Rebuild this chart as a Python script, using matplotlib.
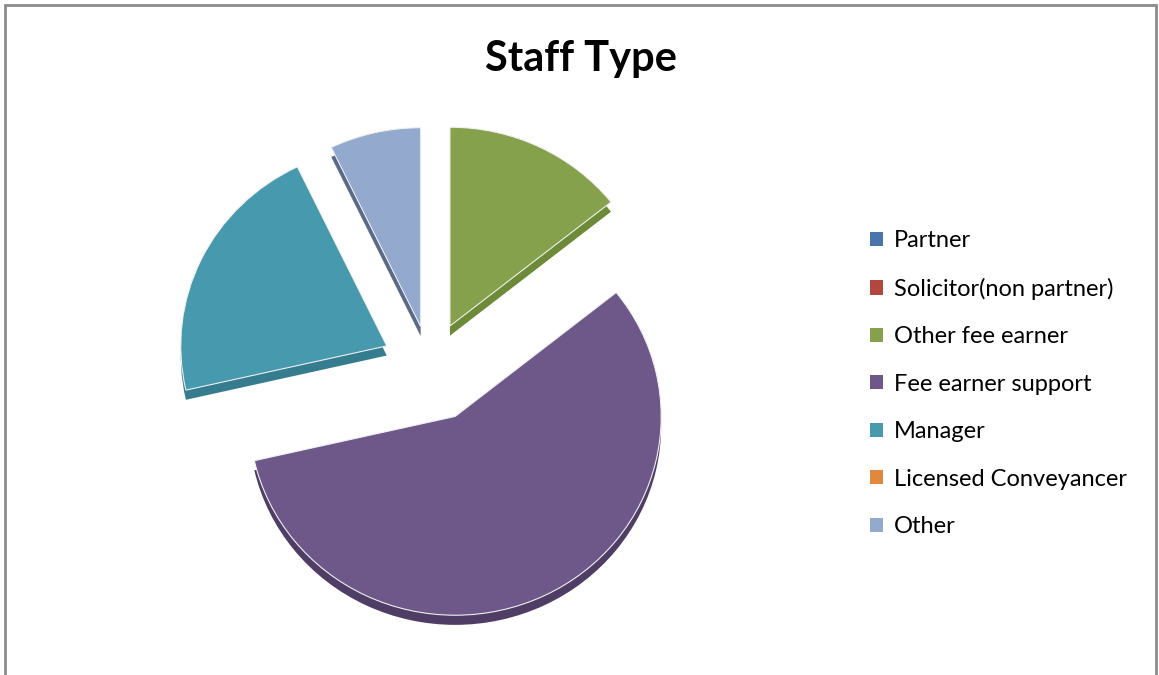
import matplotlib
matplotlib.use("Agg")
import matplotlib.pyplot as plt
from matplotlib.patches import Patch, Rectangle

# data
labels = ["Partner", "Solicitor(non partner)", "Other fee earner",
          "Fee earner support", "Manager", "Licensed Conveyancer", "Other"]
counts = [0, 0, 2, 8, 3, 0, 1]
colors = ["#4A74AC", "#B2473F", "#86A14B", "#6E5889", "#4799AD", "#E0883D", "#93A9CE"]
sides  = ["#3A5C8A", "#8E3832", "#6D8A38", "#4F3D66", "#357C8E", "#B86C2E", "#5A6B8A"]
explode_by = [0.2, 0.2, 0.23, 0.29, 0.24, 0.2, 0.21]

W, H = 1159, 675
fig = plt.figure(figsize=(W / 100, H / 100), dpi=100, facecolor="white")
plt.rcParams["font.family"] = ["Lato", "DejaVu Sans"]

# outer frame
fig.add_artist(Rectangle((5 / W, -0.01), (1151 / W), (H - 5) / H + 0.01,
                         transform=fig.transFigure, fill=False,
                         edgecolor="#8c8c8c", linewidth=2))

fig.text(581 / W, 1 - 59 / H, "Staff Type", ha="center", va="center",
         fontsize=30, fontweight="bold", color="black")

# pie axes, centre ~ (430, 366) px, slightly flattened like the 3D original
size = 560
ax = fig.add_axes([(430 - size / 2) / W, (H - 366 - size / 2) / H, size / W, size / H])
yr = 1.4 / 0.965

keep = [i for i, c in enumerate(counts) if c > 0]
vals = [counts[i] for i in keep]

# depth layer (slightly lower, darker)
ax.pie(vals, colors=[sides[i] for i in keep], explode=[explode_by[i] for i in keep],
       startangle=90, counterclock=False, radius=1.03, center=(0, -0.05),
       wedgeprops=dict(linewidth=0), frame=True)
# top face
ax.pie(vals, colors=[colors[i] for i in keep], explode=[explode_by[i] for i in keep],
       startangle=90, counterclock=False, radius=1.03, center=(0, 0),
       wedgeprops=dict(linewidth=0.8, edgecolor="#f0f0f0"), frame=True)
ax.set_aspect("auto")
ax.set_xlim(-1.4, 1.4)
ax.set_ylim(-yr, yr)
ax.axis("off")

handles = [Patch(facecolor=c, edgecolor="none") for c in colors]
fig.legend(handles, labels, loc="upper left", bbox_to_anchor=(849 / W, 1 - 209 / H),
           frameon=False, fontsize=17, handlelength=0.55, handleheight=0.55,
           handletextpad=0.45, labelspacing=1.12)

fig.savefig("out.png", dpi=100, facecolor="white")
